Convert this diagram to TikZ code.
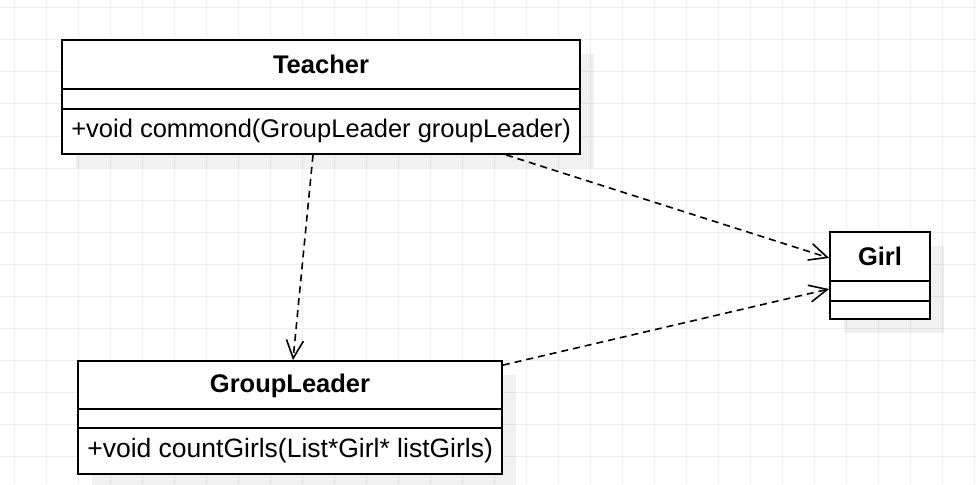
\documentclass[tikz,border=0pt]{standalone}
\usepackage{fontspec}
\setmainfont{Liberation Sans}
\usepackage{tikz}
\usetikzlibrary{arrows.meta}
\usetikzlibrary{shadows}
\definecolor{gridgray}{RGB}{238,238,238}

\tikzset{
  umlclass/.style={draw, line width=1.8pt, fill=white, inner sep=0pt,
    drop shadow={shadow xshift=14pt, shadow yshift=-14pt, fill=black, opacity=0.055}},
  classtitle/.style={inner sep=0pt, font=\fontsize{25.5pt}{30pt}\selectfont\bfseries},
  classmethod/.style={inner sep=0pt, anchor=west, font=\fontsize{25.5pt}{30pt}\selectfont},
  sepline/.style={line width=1.8pt},
  depends/.style={line width=1.6pt, dash pattern=on 7pt off 5pt,
    -{Straight Barb[length=18pt,width=17pt]}}
}

\begin{document}
\begin{tikzpicture}[x=1pt,y=-1pt]
\useasboundingbox (0,0) rectangle (976,484);
\fill[white] (0,0) rectangle (976,484);

% grid
\foreach \x in {14,46,...,974} \draw[gridgray, line width=1pt] (\x,0) -- (\x,484);
\foreach \y in {8,40,...,456} \draw[gridgray, line width=1pt] (0,\y) -- (976,\y);

% Teacher
\node[umlclass, minimum width=518pt, minimum height=114pt] (teacher) at (321,97) {};
\draw[sepline] ([yshift=-50pt]teacher.north west) -- ([yshift=-50pt]teacher.north east);
\draw[sepline] ([yshift=-70pt]teacher.north west) -- ([yshift=-70pt]teacher.north east);
\node[classtitle] (teachertitle) at ([yshift=-25pt]teacher.north) {Teacher};
\node[classmethod] (teachermethod) at ([xshift=10pt,yshift=-92pt]teacher.north west) {+void commond(GroupLeader groupLeader)};

% Girl
\node[umlclass, minimum width=100pt, minimum height=87pt] (girl) at (880,275.5) {};
\draw[sepline] ([yshift=-50pt]girl.north west) -- ([yshift=-50pt]girl.north east);
\draw[sepline] ([yshift=-70pt]girl.north west) -- ([yshift=-70pt]girl.north east);
\node[classtitle] (girltitle) at ([yshift=-25pt]girl.north) {Girl};

% GroupLeader
\node[umlclass, minimum width=424pt, minimum height=113pt] (groupleader) at (290,417.5) {};
\draw[sepline] ([yshift=-49pt]groupleader.north west) -- ([yshift=-49pt]groupleader.north east);
\draw[sepline] ([yshift=-68pt]groupleader.north west) -- ([yshift=-68pt]groupleader.north east);
\node[classtitle] (groupleadertitle) at ([yshift=-25.5pt]groupleader.north) {GroupLeader};
\node[classmethod, font=\fontsize{26.5pt}{30pt}\selectfont] (groupleadermethod) at ([xshift=10pt,yshift=-91pt]groupleader.north west) {+void countGirls(List*Girl* listGirls)};

% dependencies
\draw[depends] ([xshift=-8pt]teacher.south) -- ([xshift=3pt]groupleader.north);
\draw[depends] ([xshift=185pt]teacher.south) -- ([yshift=17.5pt]girl.west);
\draw[depends] ([yshift=-5pt]groupleader.north east) -- ([yshift=-13.5pt]girl.west);

\end{tikzpicture}
\end{document}
